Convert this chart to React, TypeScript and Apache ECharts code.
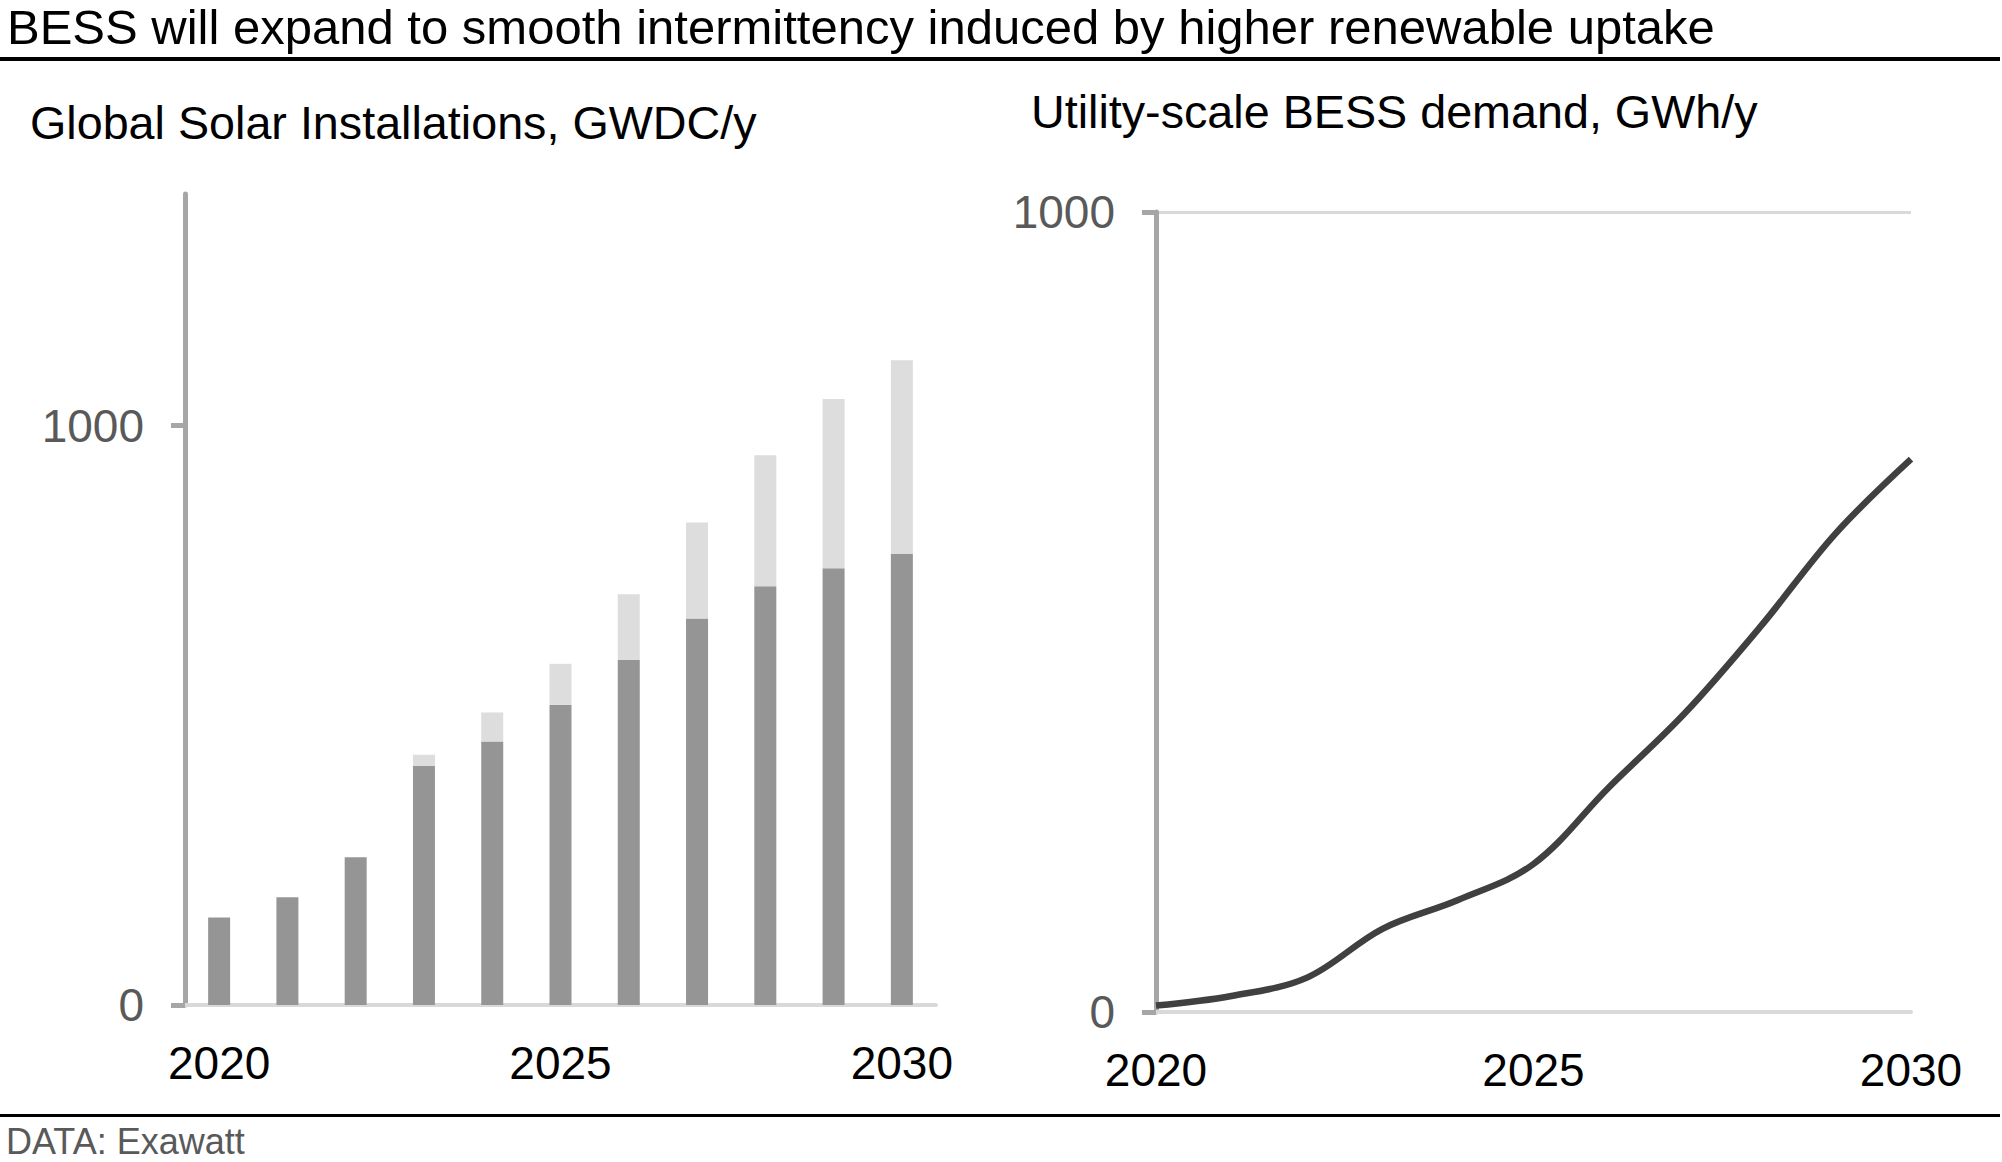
import React, { useEffect, useRef } from 'react';
import * as echarts from 'echarts';

const solarYears = ['2020', '2021', '2022', '2023', '2024', '2025', '2026', '2027', '2028', '2029', '2030'];
// dark part of each bar, then the lighter top part stacked on it
const solarBase = [151, 186, 255, 413, 455, 518, 596, 667, 723, 754, 779];
const solarUpper = [0, 0, 0, 19, 50, 71, 113, 166, 226, 292, 334];

const bessYears = ['2020', '2021', '2022', '2023', '2024', '2025', '2026', '2027', '2028', '2029', '2030'];
const bessDemand = [8, 20, 43, 104, 140, 185, 281, 373, 481, 598, 691];

const solarTicks = [0, 1000];
const bessTicks = [0, 1000];

const FONT = '"Liberation Sans", Arial, sans-serif';

// text is drawn with a central baseline, so shift from the wanted baseline
const mid = (baseline: number, size: number) => baseline - size * 0.3465;

export default function App() {
  const chartRef = useRef<HTMLDivElement | null>(null);

  useEffect(() => {
    if (!chartRef.current) return;
    const chart = echarts.init(chartRef.current, undefined, { renderer: 'svg' });

    const yLabel = {
      color: '#595959',
      fontSize: 46,
      fontFamily: FONT,
      margin: 41,
      formatter: (v: number) => String(v),
    };
    const xLabel = { color: '#000', fontSize: 46, fontFamily: FONT, margin: 35, interval: 4 };

    const option = {
      animation: false,
      backgroundColor: '#fff',
      grid: [
        { left: 185, right: 1066, top: 194, bottom: 157, outerBoundsMode: 'none' },
        { left: 1156, right: 91, top: 212, bottom: 150, outerBoundsMode: 'none' },
      ],
      xAxis: [
        {
          type: 'category',
          gridIndex: 0,
          data: solarYears,
          axisLine: { lineStyle: { color: '#d9d9d9', width: 4 } },
          axisTick: { show: false },
          axisLabel: xLabel,
        },
        {
          type: 'category',
          gridIndex: 1,
          data: bessYears,
          boundaryGap: false,
          axisLine: { lineStyle: { color: '#d9d9d9', width: 4 } },
          axisTick: { show: false },
          axisLabel: xLabel,
        },
      ],
      yAxis: [
        {
          type: 'value',
          gridIndex: 0,
          min: 0,
          max: 1400,
          interval: 1000,
          axisLine: { show: true, lineStyle: { color: '#a6a6a6', width: 5 } },
          axisTick: { show: true, length: 14, lineStyle: { color: '#a6a6a6', width: 5 }, customValues: solarTicks },
          axisLabel: { ...yLabel, customValues: solarTicks },
          splitLine: { show: true, showMaxLine: false, lineStyle: { color: '#d9d9d9', width: 3 } },
        },
        {
          type: 'value',
          gridIndex: 1,
          min: 0,
          max: 1000,
          interval: 1000,
          axisLine: { show: true, lineStyle: { color: '#a6a6a6', width: 5 } },
          axisTick: { show: true, length: 14, lineStyle: { color: '#a6a6a6', width: 5 }, customValues: bessTicks },
          axisLabel: { ...yLabel, customValues: bessTicks },
          splitLine: { show: true, lineStyle: { color: '#d9d9d9', width: 3 } },
        },
      ],
      series: [
        {
          name: 'base',
          type: 'bar',
          xAxisIndex: 0,
          yAxisIndex: 0,
          stack: 'solar',
          barWidth: 22,
          data: solarBase,
          itemStyle: { color: '#959595' },
        },
        {
          name: 'upper',
          type: 'bar',
          xAxisIndex: 0,
          yAxisIndex: 0,
          stack: 'solar',
          barWidth: 22,
          data: solarUpper,
          itemStyle: { color: '#dddddd' },
        },
        {
          name: 'BESS',
          type: 'line',
          xAxisIndex: 1,
          yAxisIndex: 1,
          data: bessDemand,
          smooth: 0.35,
          showSymbol: false,
          lineStyle: { color: '#404040', width: 6.5 },
        },
      ],
      graphic: [
        {
          type: 'text',
          x: 7,
          y: mid(44, 49),
          style: { text: 'BESS will expand to smooth intermittency induced by higher renewable uptake', fontSize: 49, fontFamily: FONT, fill: '#000', verticalAlign: 'middle' },
        },
        {
          type: 'line',
          shape: { x1: 0, y1: 59, x2: 2000, y2: 59 },
          style: { stroke: '#000', lineWidth: 4 },
        },
        {
          type: 'text',
          x: 30,
          y: mid(139, 46.7),
          style: { text: 'Global Solar Installations, GWDC/y', fontSize: 46.7, fontFamily: FONT, fill: '#000', verticalAlign: 'middle' },
        },
        {
          type: 'text',
          x: 1031,
          y: mid(128, 46.7),
          style: { text: 'Utility-scale BESS demand, GWh/y', fontSize: 46.7, fontFamily: FONT, fill: '#000', verticalAlign: 'middle' },
        },
        {
          type: 'line',
          shape: { x1: 0, y1: 1115.5, x2: 2000, y2: 1115.5 },
          style: { stroke: '#000', lineWidth: 3 },
        },
        {
          type: 'text',
          x: 6,
          y: mid(1154, 36),
          style: { text: 'DATA: Exawatt', fontSize: 36, fontFamily: FONT, fill: '#595959', verticalAlign: 'middle' },
        },
      ],
    };

    chart.setOption(option);
    return () => {
      chart.dispose();
    };
  }, []);

  return (
    <div
      ref={chartRef}
      style={{ position: 'fixed', left: 0, top: 0, width: '2002px', height: '1162px', background: '#fff' }}
    ></div>
  );
}
